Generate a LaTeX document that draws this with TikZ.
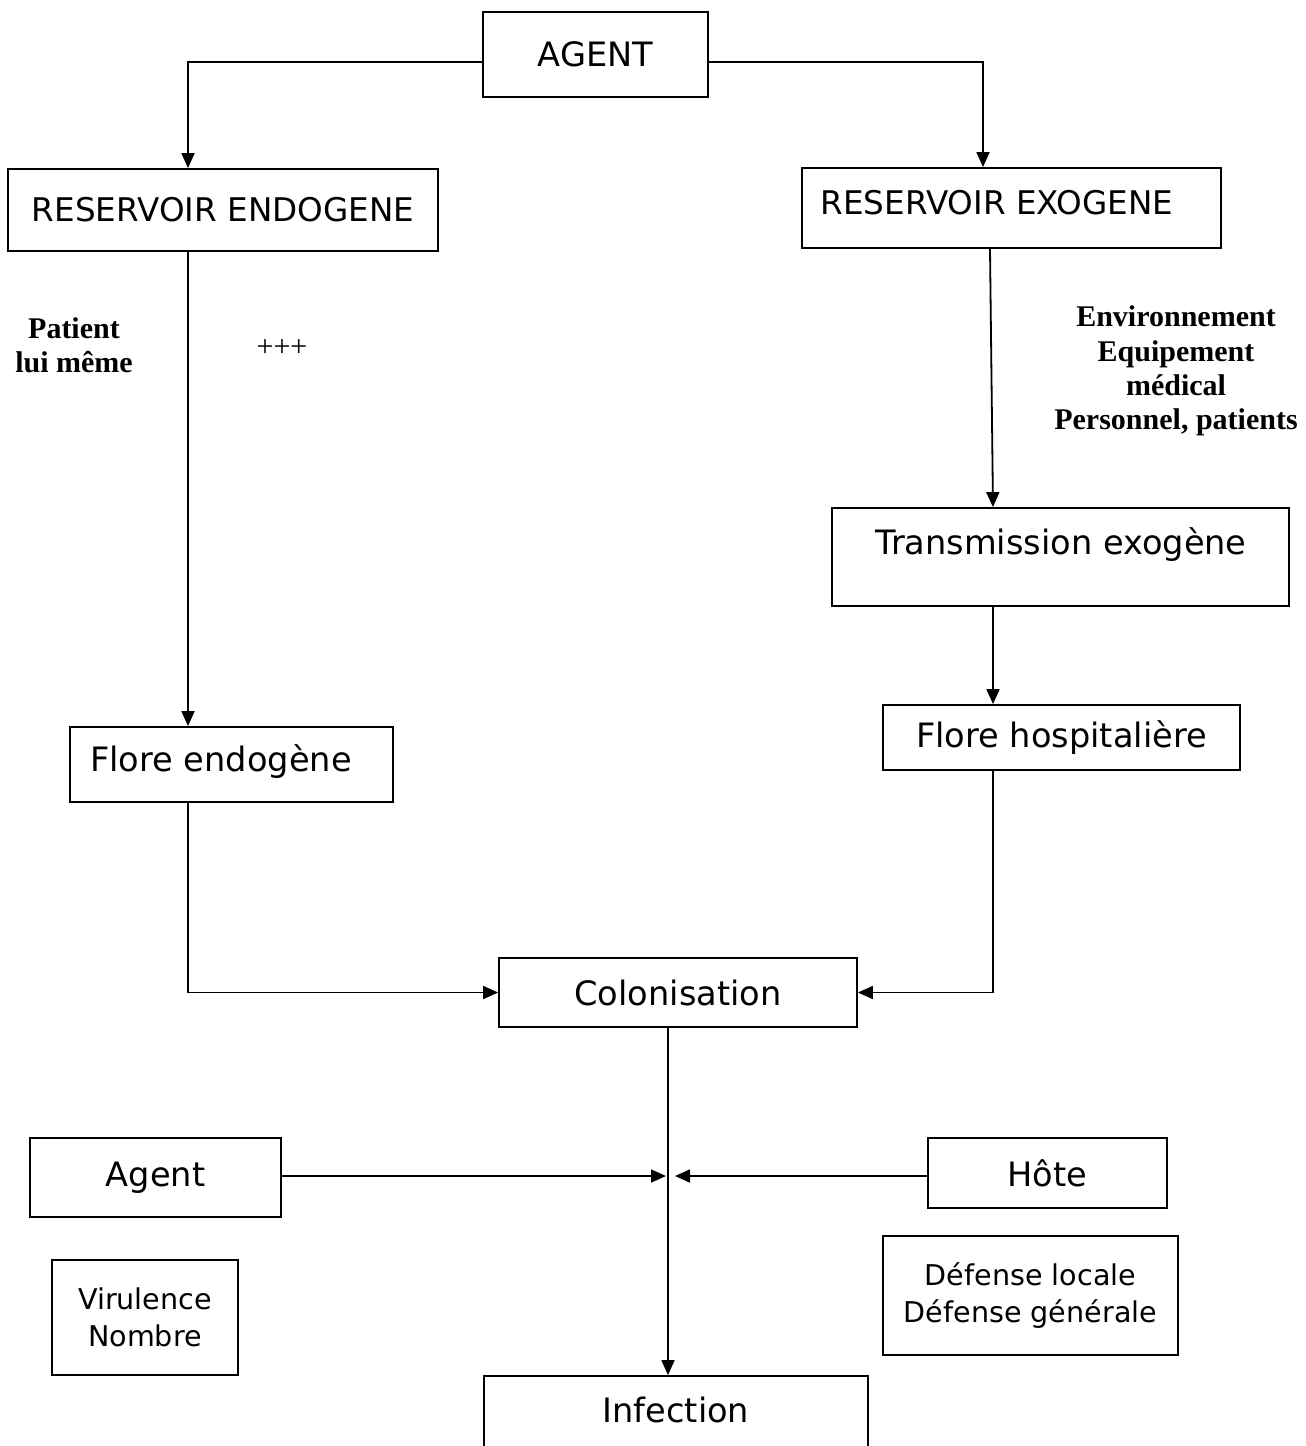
\documentclass[tikz,border=0pt]{standalone}
\usepackage{fontspec}
\setmainfont{DejaVu Sans}
\newfontfamily\tnr{Liberation Serif}
\usetikzlibrary{arrows.meta}
\newcommand{\bigtxt}{\fontsize{16.8pt}{20pt}\selectfont}
\newcommand{\restxt}{\fontsize{16.3pt}{20pt}\selectfont}
\newcommand{\smalltxt}{\fontsize{14.3pt}{18.2pt}\selectfont}
\newcommand{\sertxt}{\tnr\fontsize{15pt}{17.2pt}\selectfont}
\begin{document}
\begin{tikzpicture}[x=0.5pt,y=-0.5pt]
\tikzset{
  box/.style={draw, line width=0.9pt, inner sep=0pt, font=\bigtxt},
  smallbox/.style={draw, line width=0.9pt, inner sep=0pt, font=\smalltxt, align=center},
  txt/.style={inner sep=0pt, font=\bigtxt},
  sertext/.style={inner sep=0pt, font=\sertxt\bfseries, align=center},
  serreg/.style={inner sep=0pt, font=\sertxt},
  arr/.style={-{Triangle[length=7.5pt,width=6.5pt]}, line width=0.9pt}
}
\useasboundingbox (0,0) rectangle (1306,1446);
\clip (0,0) rectangle (1306,1446);

% boxes
\node[box, minimum width=112.5pt, minimum height=42.5pt] (agent) at (595.5,54.5) {AGENT};
\node[box, font=\restxt, minimum width=215pt, minimum height=41pt] (rendo) at (223,210) {RESERVOIR ENDOGENE};
\node[box, minimum width=209.5pt, minimum height=40pt] (rexo) at (1011.5,208) {};
\node[txt, font=\restxt] (rexot) at (997,203) {RESERVOIR EXOGENE};
\node[box, minimum width=161.5pt, minimum height=37.5pt] (fendo) at (231.5,764.5) {};
\node[txt] (fendot) at (221,762) {Flore endogène};
\node[box, minimum width=228.5pt, minimum height=49pt] (trans) at (1060.5,557) {};
\node[txt] (transt) at (1061,545) {Transmission exogène};
\node[box, minimum width=178.5pt, minimum height=32.5pt] (hosp) at (1061.5,737.5) {Flore hospitalière};
\node[box, minimum width=179pt, minimum height=34.5pt] (colon) at (678,992.5) {Colonisation};
\node[box, minimum width=192pt, minimum height=60pt] (infbox) at (676,1436) {};
\node[txt] (inft) at (676,1410) {Infection};
\node[box, minimum width=125.5pt, minimum height=39.5pt] (agent2) at (155.5,1177.5) {Agent};
\node[box, minimum width=119.5pt, minimum height=35pt] (hote) at (1047.5,1173) {Hôte};
\node[smallbox, minimum width=93pt, minimum height=57.5pt] (viru) at (145,1317.5) {Virulence\\Nombre};
\node[smallbox, minimum width=147.5pt, minimum height=59.5pt] (def) at (1030.5,1295.5) {Défense locale\\Défense générale};

% side texts
\node[sertext] (pat) at (74,345) {Patient\\lui même};
\node[serreg] (plus) at (282,348) {+++};
\node[sertext] (env) at (1176,371) {Environnement\\Equipement\\médical\\Personnel, patients};

% helper coordinates
\coordinate (cL) at (188,62);
\coordinate (cR) at (983,62);
\coordinate (xa) at (990,0);
\coordinate (xb) at (993,0);
\coordinate (xi) at (668,0);
\coordinate (tipL) at (666,1176);
\coordinate (tipR) at (675,1176);

% connectors
\draw[arr] (agent.west |- cL) -| (rendo.north -| cL);
\draw[arr] (agent.east |- cR) -| (rexo.north -| cR);
\draw[arr] (rendo.south -| cL) -- (fendo.north -| cL);
\draw[arr] (rexo.south -| xa) -- (trans.north -| xb);
\draw[arr] (trans.south -| xb) -- (hosp.north -| xb);
\draw[arr] (fendo.south -| cL) |- (colon.west);
\draw[arr] (hosp.south -| xb) |- (colon.east);
\draw[arr] (colon.south -| xi) -- (infbox.north -| xi);
\draw[arr] (agent2.east |- tipL) -- (tipL);
\draw[arr] (hote.west |- tipR) -- (tipR);
\end{tikzpicture}
\end{document}
